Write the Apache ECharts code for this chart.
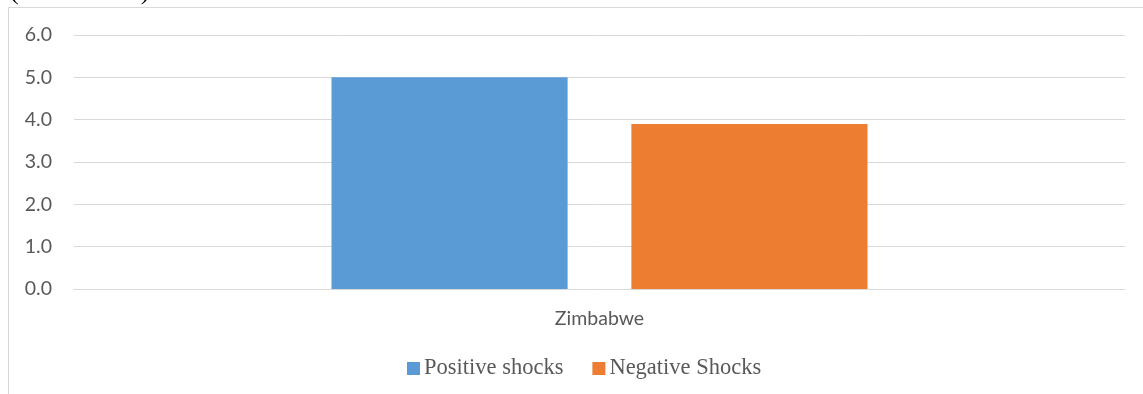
<!DOCTYPE html>
<html>
<head>
<meta charset="utf-8">
<script src="https://cdn.jsdelivr.net/npm/echarts@6/dist/echarts.min.js"></script>
<style>
  html, body { margin: 0; padding: 0; background: #fff; }
  #chart { width: 1143px; height: 394px; }
</style>
</head>
<body>
<div id="chart"></div>
<script>
// Chart data
const categories = ['Zimbabwe'];
const seriesNames = ['Positive shocks', 'Negative Shocks'];
const positiveShocks = [5.0];
const negativeShocks = [3.9];
const seriesColors = ['#5b9bd5', '#ed7d31'];

const chart = echarts.init(document.getElementById('chart'));

const labelFont = 'Lato, "Open Sans", sans-serif';

chart.setOption({
  animation: false,
  backgroundColor: '#ffffff',
  graphic: [
    // frame lines along the top and left edges
    { type: 'line', shape: { x1: 8.5, y1: 7.5, x2: 1143, y2: 7.5 }, style: { stroke: '#d9d9d9', lineWidth: 1 } },
    { type: 'line', shape: { x1: 8.5, y1: 7.5, x2: 8.5, y2: 394 }, style: { stroke: '#d9d9d9', lineWidth: 1 } },
    // unit caption above the frame
    { type: 'text', left: 10, top: -21, style: { text: '(Index value)', font: '26px "Liberation Serif", "Times New Roman", serif', fill: '#000' } }
  ],
  grid: { left: 74, right: 18, top: 35, bottom: 105, containLabel: false },
  legend: {
    data: seriesNames,
    top: 352,
    left: 402,
    itemWidth: 13,
    itemHeight: 13,
    itemGap: 29,
    icon: 'rect',
    textStyle: { fontFamily: '"Liberation Serif", "Times New Roman", serif', fontSize: 22.5, color: '#595959', padding: [0, 0, 0, -1] }
  },
  xAxis: {
    type: 'category',
    data: categories,
    axisLine: { show: true, lineStyle: { color: '#d9d9d9' } },
    axisTick: { show: false },
    axisLabel: { margin: 20, fontFamily: labelFont, fontSize: 19.5, color: '#595959' }
  },
  yAxis: {
    type: 'value',
    min: 0,
    max: 6,
    interval: 1,
    axisLine: { show: false },
    axisTick: { show: false },
    axisLabel: { margin: 22, fontFamily: labelFont, fontSize: 19.5, color: '#595959', formatter: v => v.toFixed(1) },
    splitLine: { lineStyle: { color: '#d9d9d9', width: 1 } }
  },
  series: [
    { name: seriesNames[0], type: 'bar', data: positiveShocks, itemStyle: { color: seriesColors[0] }, barGap: '27%', barCategoryGap: '49%' },
    { name: seriesNames[1], type: 'bar', data: negativeShocks, itemStyle: { color: seriesColors[1] }, barGap: '27%', barCategoryGap: '49%' }
  ]
});
</script>
</body>
</html>
